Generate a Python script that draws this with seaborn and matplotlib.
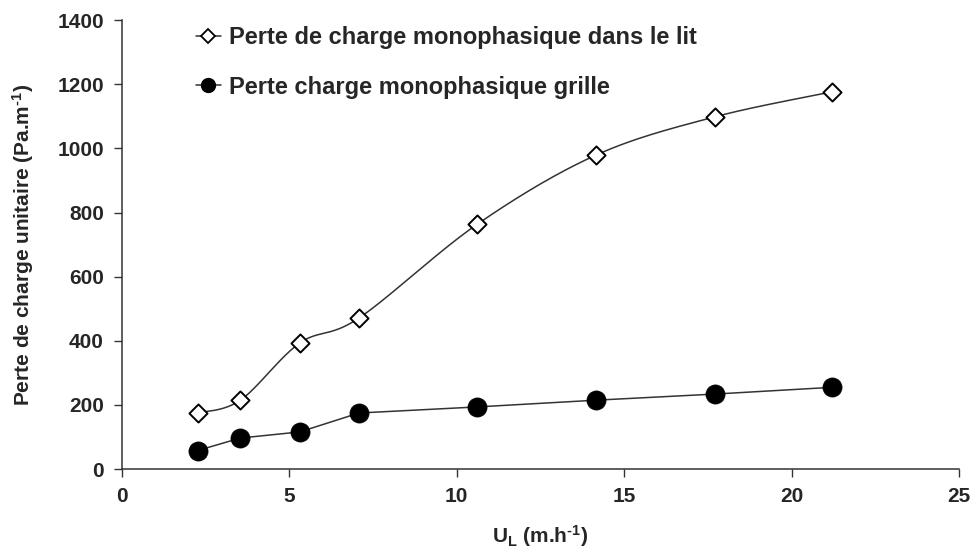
import numpy as np
import pandas as pd
import matplotlib
matplotlib.use("Agg")
import matplotlib.pyplot as plt
from matplotlib.lines import Line2D
import seaborn as sns

# Superficial liquid velocity (m/h)
u_l = [2.26, 3.54, 5.31, 7.08, 10.62, 14.16, 17.70, 21.20]
# Single-phase pressure drop per unit length (Pa/m)
perte_lit = [175, 215, 393, 471, 764, 979, 1098, 1176]
perte_grille = [58, 97, 116, 175, 194, 215, 234, 255]

label_lit = "Perte de charge monophasique dans le lit"
label_grille = "Perte charge monophasique grille"

sns.set_theme(style="ticks")
plt.rcParams["font.family"] = ["Liberation Sans", "DejaVu Sans"]
plt.rcParams["font.weight"] = "bold"
plt.rcParams["mathtext.fontset"] = "custom"
plt.rcParams["mathtext.rm"] = "Liberation Sans:bold"
plt.rcParams["mathtext.bf"] = "Liberation Sans:bold"
plt.rcParams["mathtext.default"] = "bf"


def smooth_curve(x, y, n=40):
    """Cubic Bezier smoothing through the points (Catmull-Rom style, 1/6 tension)."""
    p = np.column_stack([x, y]).astype(float)
    pts = [p[0]] + list(p) + [p[-1]]
    out = []
    t = np.linspace(0, 1, n)[:, None]
    for i in range(1, len(pts) - 2):
        p0, p1, p2, p3 = pts[i - 1], pts[i], pts[i + 1], pts[i + 2]
        c1 = p1 + (p2 - p0) / 6.0
        c2 = p2 - (p3 - p1) / 6.0
        seg = ((1 - t) ** 3) * p1 + 3 * ((1 - t) ** 2) * t * c1 + 3 * (1 - t) * t ** 2 * c2 + t ** 3 * p2
        out.append(seg if i == 1 else seg[1:])
    c = np.vstack(out)
    return c[:, 0], c[:, 1]


fig = plt.figure(figsize=(9.75, 5.5), dpi=100)
ax = fig.add_axes([0.125, 0.147, 0.8586, 0.8166])

df = pd.DataFrame({"u": u_l, "lit": perte_lit, "grille": perte_grille})

line_kw = dict(color="#333333", lw=1.1, zorder=2)
# bed curve is smoothed, grid curve uses straight segments
sx, sy = smooth_curve(df["u"], df["lit"])
ax.plot(sx, sy, **line_kw)
sns.lineplot(data=df, x="u", y="grille", ax=ax, estimator=None, sort=False, **line_kw)

sns.scatterplot(data=df, x="u", y="lit", ax=ax, marker="D", s=85,
                facecolor="white", edgecolor="black", linewidth=1.4, zorder=3)
sns.scatterplot(data=df, x="u", y="grille", ax=ax, marker="o", s=190,
                color="black", edgecolor="black", linewidth=0.5, zorder=3)

ax.set_xlim(0, 25)
ax.set_ylim(0, 1400)
ax.set_xticks(np.arange(0, 26, 5))
ax.set_yticks(np.arange(0, 1401, 200))
sns.despine(ax=ax)
for s in ("left", "bottom"):
    ax.spines[s].set_color("#333333")
    ax.spines[s].set_linewidth(1.1)
ax.tick_params(axis="both", direction="out", length=6, width=1, color="#333333",
               labelsize=15, pad=7)
for lab in ax.get_xticklabels() + ax.get_yticklabels():
    lab.set_fontweight("bold")

ax.set_xlabel(r"U$_{L}$ (m.h$^{\text{-}1}$)", fontsize=15,
              fontweight="bold", labelpad=12)
ax.set_ylabel(r"Perte de charge unitaire (Pa.m$^{\text{-}1}$)", fontsize=15,
              fontweight="bold", labelpad=15)

handles = [
    Line2D([], [], color="#333333", lw=1.1, marker="D", markersize=7,
           markerfacecolor="white", markeredgecolor="black", markeredgewidth=1.3),
    Line2D([], [], color="#333333", lw=1.1, marker="o", markersize=10,
           markerfacecolor="black", markeredgecolor="black"),
]
leg = ax.legend(handles, [label_lit, label_grille], loc="upper left",
                bbox_to_anchor=(196 / 975, 1 - 26 / 550), bbox_transform=fig.transFigure,
                frameon=False, borderpad=0, borderaxespad=0, handlelength=1.05,
                handletextpad=0.35, labelspacing=1.13,
                prop={"size": 17, "weight": "bold"})

fig.savefig("out.png", dpi=100, facecolor="white")
